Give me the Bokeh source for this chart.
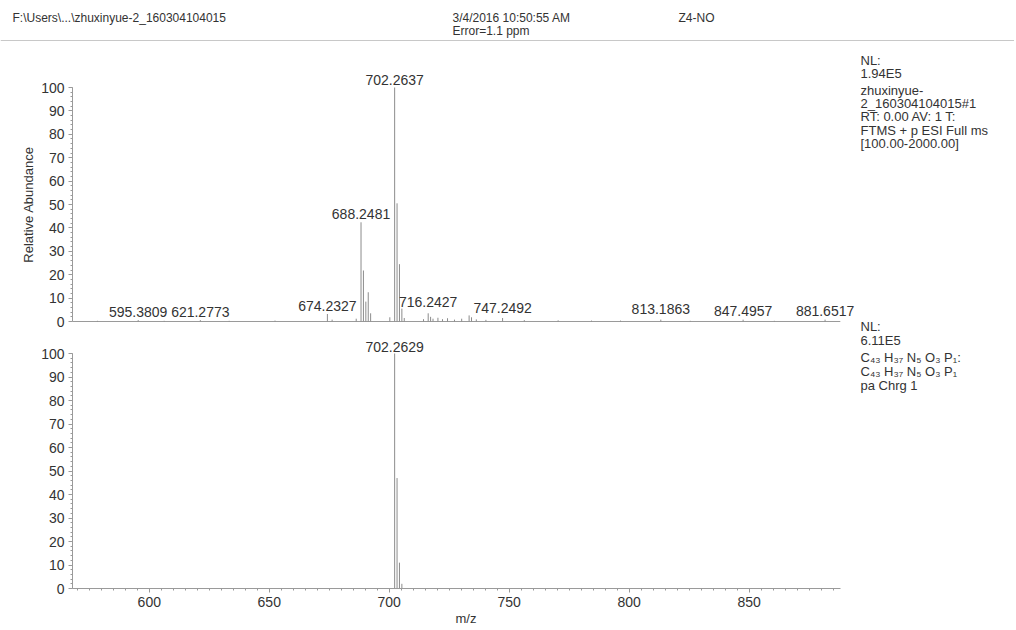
import math
from bokeh.plotting import figure
from bokeh.layouts import column, row
from bokeh.models import ColumnDataSource, LabelSet, FixedTicker, Range1d, Span
from bokeh.core.properties import value
from bokeh.embed import file_html
from bokeh.resources import INLINE

FONT = "Liberation Sans"
TXT = "#333333"
AX = "#9a9a9a"
PEAK = "#8c8c8c"

# ---- data: measured spectrum (top) ----
top_mz = [578.4, 595.3809, 606.2, 621.2773, 633.3, 652.4, 674.2327, 676.2, 686.24,
          688.2481, 689.2512, 690.2530, 691.2540, 692.256, 700.25, 702.2637, 703.2668,
          704.2695, 705.272, 706.27, 714.3, 716.2427, 717.245, 718.25, 720.3, 722.2,
          724.3, 727.2, 730.2, 733.3, 734.3, 736.3, 740.3, 747.2492, 756.3, 770.4,
          784.3, 796.4, 813.1863, 825.5, 847.4957, 860.5, 881.6517]
top_int = [0.3, 0.6, 0.3, 0.6, 0.3, 0.4, 3.2, 0.8, 1.2,
           42.4, 21.8, 8.5, 12.5, 3.5, 1.8, 100.0, 50.5,
           24.5, 5.5, 1.5, 1.0, 3.5, 2.0, 1.2, 1.6, 1.0,
           1.4, 0.8, 1.2, 2.6, 1.8, 0.9, 0.7, 1.5, 0.6, 0.5,
           0.4, 0.4, 0.8, 0.3, 0.8, 0.3, 0.8]

top_lab_mz = [595.3809, 621.2773, 674.2327, 688.2481, 702.2637, 716.2427, 747.2492,
              813.1863, 847.4957, 881.6517]
top_lab_int = [0.6, 0.6, 3.2, 42.4, 100.0, 5.0, 2.5, 2.0, 1.0, 1.0]
top_lab_txt = ["595.3809", "621.2773", "674.2327", "688.2481", "702.2637", "716.2427",
               "747.2492", "813.1863", "847.4957", "881.6517"]

# ---- data: simulated isotope pattern (bottom) ----
bot_mz = [702.2629, 703.2662, 704.2694, 705.2725]
bot_int = [100.0, 47.0, 11.0, 2.0]
bot_lab_mz = [702.2629]
bot_lab_int = [100.0]
bot_lab_txt = ["702.2629"]

x_ticks = [600, 650, 700, 750, 800, 850]
y_ticks = [0, 10, 20, 30, 40, 50, 60, 70, 80, 90, 100]

header_texts = ["F:\\Users\\...\\zhuxinyue-2_160304104015", "3/4/2016 10:50:55 AM",
                "Error=1.1 ppm", "Z4-NO"]
info1 = ["NL:", "1.94E5", "zhuxinyue-", "2_160304104015#1", "RT: 0.00  AV: 1 T:",
         "FTMS + p ESI Full ms", "[100.00-2000.00]"]
info2 = ["NL:", "6.11E5", "C\u2084\u2083 H\u2083\u2087 N\u2085 O\u2083 P\u2081:",
         "C\u2084\u2083 H\u2083\u2087 N\u2085 O\u2083 P\u2081", "pa Chrg 1"]

XMIN, XAXIS_END, XMAX = 568.0, 888.0, 896.0
W = 1014
PW = 859          # spectrum figure right edge (frame 72..859)
IW = W - PW       # info column width
LW = 36           # left label column width

HH = 45           # header height
R1_TOP, R1_BOT = 45, 333      # row 1 page extent
R2_TOP, R2_BOT = 333, 628     # row 2 page extent
Y0_TOP, PX_TOP = 321, 2.34    # top panel: page y of 0 and px per unit
Y0_BOT, PX_BOT = 588, 2.35    # bottom panel


def style_y(p):
    p.outline_line_color = None
    p.grid.grid_line_color = None
    for ax in p.yaxis:
        ax.ticker = FixedTicker(ticks=y_ticks, minor_ticks=list(range(0, 101, 2)))
        ax.bounds = (0, 100)
        ax.axis_line_color = AX
        ax.major_tick_line_color = AX
        ax.minor_tick_line_color = AX
        ax.major_tick_out = 4
        ax.major_tick_in = 0
        ax.minor_tick_out = 2
        ax.minor_tick_in = 0
        ax.major_label_text_font = FONT
        ax.major_label_text_font_size = "14px"
        ax.major_label_text_color = TXT
        ax.major_label_standoff = 4


def text_fig(width, height, bottom=0):
    f = figure(width=width, height=height, output_backend="svg", toolbar_location=None,
               x_range=Range1d(0, width), y_range=Range1d(height - bottom, 0),
               min_border_left=0, min_border_right=0,
               min_border_top=0, min_border_bottom=bottom)
    f.axis.visible = False
    f.grid.visible = False
    f.outline_line_color = None
    return f


def put_text(f, xs, ys, texts, size, angle=0.0, align="left"):
    f.text(x=xs, y=ys, text=texts, text_font=value(FONT), text_font_size=value(size),
           text_color=TXT, text_baseline="middle", text_align=align, angle=angle)


# ---------------- header ----------------
hdr = text_fig(W, HH)
put_text(hdr, [12, 452, 452, 678], [17, 17, 30, 17], header_texts, "12px")
hdr.add_layout(Span(location=40, dimension="width", line_color="#c8c8c8", line_width=1))

# ---------------- top panel ----------------
H1 = R1_BOT - R1_TOP
p1 = figure(width=PW - LW, height=H1, output_backend="svg", toolbar_location=None,
            x_range=Range1d(XMIN, XMAX),
            y_range=Range1d(-(R1_BOT - Y0_TOP) / PX_TOP, (Y0_TOP - R1_TOP) / PX_TOP),
            min_border_left=72 - LW, min_border_right=0, min_border_top=0, min_border_bottom=0)
p1.segment(x0=[XMIN], y0=[0], x1=[XAXIS_END], y1=[0], line_color=AX, line_width=1)
src1 = ColumnDataSource(dict(x=top_mz, y=top_int, y0=[0] * len(top_mz)))
p1.segment(x0="x", y0="y0", x1="x", y1="y", source=src1, line_color=PEAK, line_width=1)
lab1 = ColumnDataSource(dict(x=top_lab_mz, y=top_lab_int, t=top_lab_txt))
p1.add_layout(LabelSet(x="x", y="y", text="t", source=lab1, y_offset=3,
                       text_font=value(FONT), text_font_size=value("14px"), text_color=TXT,
                       text_align="center", text_baseline="bottom"))
p1.xaxis.visible = False
style_y(p1)

labfig = text_fig(LW, H1)
put_text(labfig, [LW - 8], [(Y0_TOP - 50 * PX_TOP) - R1_TOP], ["Relative Abundance"], "13px",
         angle=math.pi / 2, align="center")

inf1 = text_fig(IW, H1)
put_text(inf1, [1] * (len(info1) + 1),
         [y - R1_TOP for y in [60, 73, 90, 103, 116, 130, 143, 325.5]],
         info1 + info2[:1], "13px")

# ---------------- bottom panel ----------------
H2 = R2_BOT - R2_TOP
AXB = 40
p2 = figure(width=PW, height=H2, output_backend="svg", toolbar_location=None,
            x_range=Range1d(XMIN, XMAX),
            y_range=Range1d(0, (Y0_BOT - R2_TOP) / PX_BOT),
            min_border_left=72, min_border_right=0, min_border_top=0, min_border_bottom=AXB)
src2 = ColumnDataSource(dict(x=bot_mz, y=bot_int, y0=[0] * len(bot_mz)))
p2.segment(x0="x", y0="y0", x1="x", y1="y", source=src2, line_color=PEAK, line_width=1)
lab2 = ColumnDataSource(dict(x=bot_lab_mz, y=bot_lab_int, t=bot_lab_txt))
p2.add_layout(LabelSet(x="x", y="y", text="t", source=lab2, y_offset=2,
                       text_font=value(FONT), text_font_size=value("14px"), text_color=TXT,
                       text_align="center", text_baseline="bottom"))
p2.xaxis.axis_label = "m/z"
style_y(p2)
for ax in p2.xaxis:
    ax.ticker = FixedTicker(ticks=x_ticks, minor_ticks=[float(v) for v in range(570, 890, 5)])
    ax.bounds = (XMIN, XAXIS_END)
    ax.axis_line_color = AX
    ax.major_tick_line_color = AX
    ax.minor_tick_line_color = AX
    ax.major_tick_in = 0
    ax.minor_tick_in = 0
    ax.major_tick_out = 4
    ax.minor_tick_out = 2
    ax.major_label_text_font = FONT
    ax.major_label_text_font_size = "14px"
    ax.major_label_text_color = TXT
    ax.major_label_standoff = 4
    ax.axis_label_text_font = FONT
    ax.axis_label_text_font_size = "13px"
    ax.axis_label_text_font_style = "normal"
    ax.axis_label_text_color = TXT
    ax.axis_label_standoff = 1

inf2 = text_fig(IW, H2, bottom=AXB)
put_text(inf2, [1] * (len(info2) - 1), [y - R2_TOP for y in [340, 357, 371, 385]],
         info2[1:], "13px")

layout = column(hdr,
                row(labfig, p1, inf1, spacing=0),
                row(p2, inf2, spacing=0),
                spacing=0)
open("out.html", "w").write(file_html(layout, INLINE))
